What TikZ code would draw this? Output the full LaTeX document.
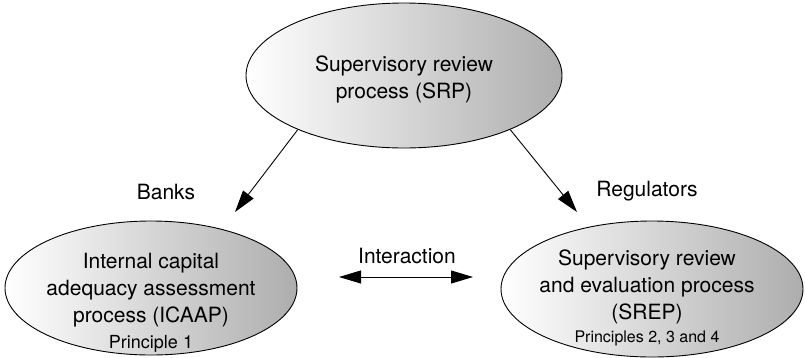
\documentclass[tikz,border=0pt]{standalone}
\usepackage{fontspec}
\setmainfont{TeX Gyre Heros}
\usetikzlibrary{shapes.geometric,arrows.meta}
\tikzset{
  bubble/.style={draw=black, line width=0.9pt, ellipse, inner sep=0pt,
    left color=white, right color=black!32},
  bigtxt/.style={align=center, font=\fontsize{21}{27}\selectfont, inner sep=0pt},
  smalltxt/.style={font=\fontsize{16}{19}\selectfont, inner sep=0pt},
  conn/.style={line width=0.9pt, -{Triangle[length=22pt,width=13pt]}},
  conn2/.style={line width=0.9pt, {Triangle[length=22pt,width=13pt]}-{Triangle[length=22pt,width=13pt]}}
}
\begin{document}
\begin{tikzpicture}[x=1pt,y=-1pt]
\useasboundingbox (0,0) rectangle (805,357);
\node[bubble, minimum width=316pt, minimum height=145pt] (T) at (404,75.5) {};
\node[bubble, minimum width=292pt, minimum height=134pt] (L) at (151,288) {};
\node[bubble, minimum width=302pt, minimum height=136pt] (R) at (652,289) {};
\node[bigtxt] (Tt) at (404,79) {Supervisory review\\process (SRP)};
\node[bigtxt] (Lt) at (151,290) {Internal capital\\adequacy assessment\\process (ICAAP)};
\node[smalltxt, font=\fontsize{18}{21}\selectfont] (Lp) at (151,344) {Principle 1};
\node[bigtxt] (Rt) at (647,287) {Supervisory review\\and evaluation process\\(SREP)};
\node[smalltxt] (Rp) at (647,338) {Principles 2, 3 and 4};
\node[bigtxt] (banks) at (166,192) {Banks};
\node[bigtxt] (reg) at (647,191) {Regulators};
\node[bigtxt] (inter) at (407,256) {Interaction};
\coordinate (tipL) at (235,212);
\coordinate (tipR) at (577,212);
\coordinate (iL) at (339,277);
\coordinate (iR) at (473,277);
\draw[conn] (T.207.4) -- (tipL);
\draw[conn] (T.-27.4) -- (tipR);
\draw[conn2] (iL) -- (iR);
\end{tikzpicture}
\end{document}
